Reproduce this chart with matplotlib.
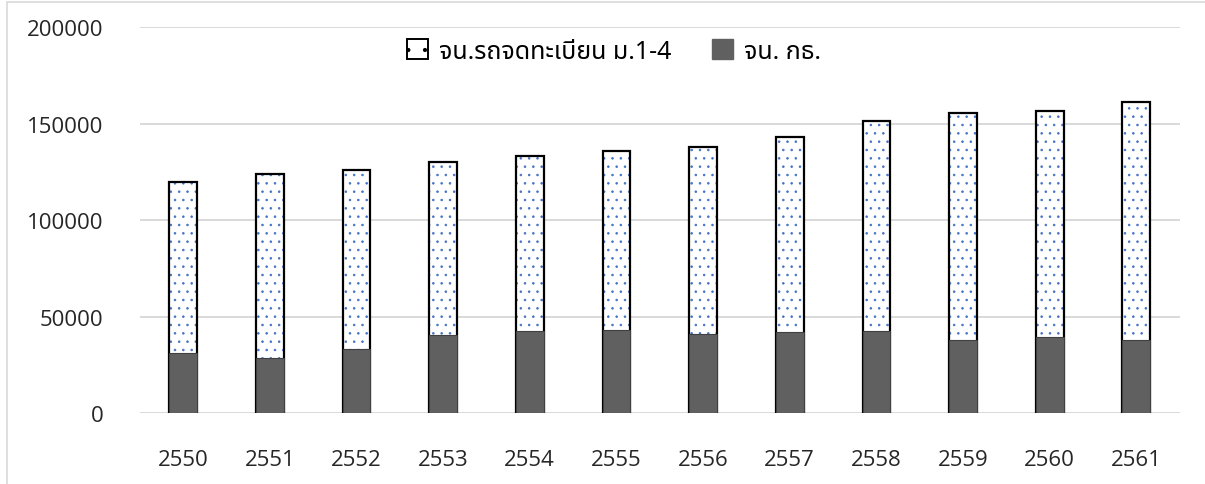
import matplotlib
matplotlib.use("Agg")
import matplotlib.pyplot as plt
from matplotlib import font_manager
from matplotlib.ft2font import FT2Font
from matplotlib.patches import Rectangle

years = ["2550", "2551", "2552", "2553", "2554", "2555",
         "2556", "2557", "2558", "2559", "2560", "2561"]
registered = [119600, 123900, 126200, 130300, 133400, 136000,
              138000, 143200, 151500, 155500, 156800, 161000]
kt = [31000, 28600, 33100, 40300, 42400, 42900,
      40800, 41900, 42400, 37700, 39700, 38100]
labels = ["จน.รถจดทะเบียน ม.1-4", "จน. กธ."]


def thai_family():
    # pick any installed font that actually has Thai glyphs
    preferred = ["Noto Sans Thai", "Noto Sans Thai UI", "Loma", "Garuda", "Tlwg Typo"]
    found = []
    for f in font_manager.fontManager.ttflist:
        try:
            if ord("จ") in FT2Font(f.fname).get_charmap():
                found.append(f.name)
        except Exception:
            pass
    for name in preferred:
        if name in found:
            return name
    return found[0] if found else "DejaVu Sans"


thai = thai_family()
plt.rcParams["font.family"] = ["Open Sans", thai, "DejaVu Sans"]
plt.rcParams["hatch.linewidth"] = 0.6

fig = plt.figure(figsize=(12.05, 4.85), dpi=100)
ax = fig.add_axes([0.116, 0.146, 0.863, 0.796])

x = range(len(years))
w = 0.32
ax.bar(x, registered, width=w, color="white", edgecolor="#4472c4",
       hatch="..", linewidth=0, zorder=2)
ax.bar(x, registered, width=w, fill=False, edgecolor="black",
       linewidth=1.6, zorder=3)
ax.bar(x, kt, width=w, color="#606060", edgecolor="#404040",
       linewidth=0.8, zorder=4)

ax.set_xlim(-0.5, len(years) - 0.5)
ax.set_ylim(0, 200000)
ax.set_yticks([0, 50000, 100000, 150000, 200000])
ax.set_yticklabels(["0", "50000", "100000", "150000", "200000"])
ax.set_xticks(list(x))
ax.set_xticklabels(years)
ax.tick_params(axis="both", length=0, labelsize=16, colors="#262626")
ax.tick_params(axis="y", pad=26)
ax.tick_params(axis="x", pad=26)
ax.yaxis.grid(True, color="#d9d9d9", linewidth=1.4, zorder=0)
ax.set_axisbelow(True)
for s in ax.spines.values():
    s.set_visible(False)

# legend handles
h1 = Rectangle((0, 0), 1, 1, facecolor="white", edgecolor="black",
               hatch=".", linewidth=1.4)
h2 = Rectangle((0, 0), 1, 1, facecolor="#606060", edgecolor="#606060")
ax.legend([h1, h2], labels, loc="center", bbox_to_anchor=(0.456, 0.938),
          ncol=2, frameon=False, handlelength=0.85,
          handleheight=0.85, columnspacing=1.6, handletextpad=0.45,
          prop={"family": [thai, "DejaVu Sans"], "size": 18})

# thin outer frame of the chart area
fig.add_artist(Rectangle((0.006, -0.1), 1.2, 1.094, transform=fig.transFigure,
                         fill=False, edgecolor="#d9d9d9", linewidth=1.2))

fig.savefig("out.png", dpi=100)
